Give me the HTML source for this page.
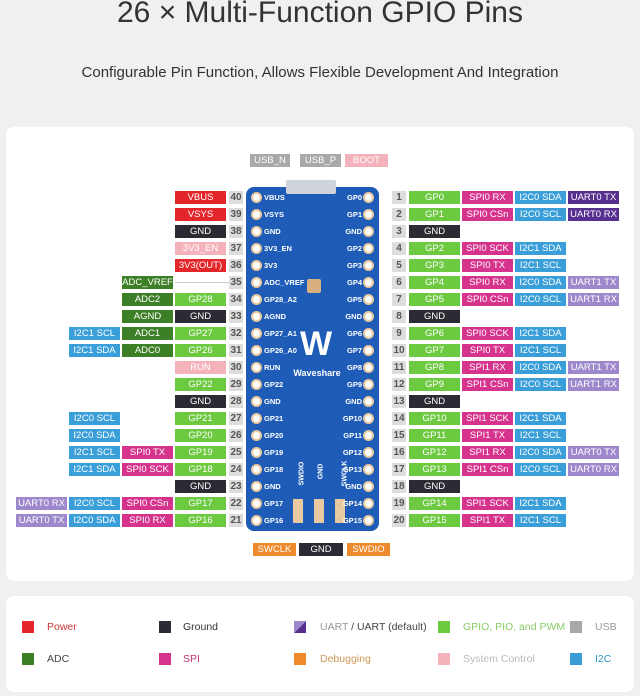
<!DOCTYPE html>
<html><head><meta charset="utf-8"><style>
*{margin:0;padding:0;box-sizing:border-box}
body{width:640px;height:696px;background:#f0f0f0;font-family:"Liberation Sans",sans-serif;position:relative;overflow:hidden}
.t{position:absolute;left:0;width:640px;text-align:center;color:#333}
.card{position:absolute;background:#fff;border-radius:8px}
.l{position:absolute;width:51px;height:13px;font-size:9.5px;line-height:13px;text-align:center;color:#fff}
.n,.m{position:absolute;width:14px;height:13px;font-size:10px;line-height:13px;text-align:center;background:#ddd;color:#555;font-weight:bold}
.n{left:229px}.m{left:392px}
.a{left:175px}.b{left:122px}.c{left:69px}.d{left:16px}
.e{left:409px}.f{left:462px}.g{left:515px}.h{left:568px}
.p{background:#e4262b}.k{background:#2b2b33}.s{background:#f4b3ba}.gp{background:#6cc940}.ad{background:#3d7f27}
.sp{background:#d5338c}.i{background:#3a9fd9}.ud{background:#57308f}.ul{background:#9d88cc}.us{background:#a9a9a9}.db{background:#ee8a2c}
.r0{top:191px}.r1{top:208px}.r2{top:225px}.r3{top:242px}.r4{top:259px}.r5{top:276px}.r6{top:293px}.r7{top:310px}.r8{top:327px}.r9{top:344px}
.r10{top:361px}.r11{top:378px}.r12{top:395px}.r13{top:412px}.r14{top:429px}.r15{top:446px}.r16{top:463px}.r17{top:480px}.r18{top:497px}.r19{top:514px}
.board{position:absolute;left:246px;top:187px;width:133px;height:344px;background:#1f5cb8;border-radius:8px}
.pl,.pr{position:absolute;font-size:7.5px;font-weight:bold;color:#fff;height:13px;line-height:13px}
.pl{left:264px}.pr{left:302px;width:60px;text-align:right}
.pad{position:absolute;width:11px;height:11px;border-radius:50%;background:#fff;border:2px solid #e8c9a0}
.pa{left:251px}.pb{left:363px}
.sq{position:absolute;width:12px;height:12px}
.lt{position:absolute;font-size:10.5px;line-height:12px}
.ln{position:absolute;height:1px;background:#ccc}
</style></head><body>
<div class="t" style="top:-4px;font-size:30px">26 × Multi-Function GPIO Pins</div>
<div class="t" style="top:64px;font-size:15px">Configurable Pin Function, Allows Flexible Development And Integration</div>
<div class="card" style="left:6px;top:127px;width:628px;height:454px"></div>
<div class="card" style="left:6px;top:596px;width:628px;height:96px"></div>

<div class="board"></div>
<div style="position:absolute;left:286px;top:180px;width:50px;height:14px;background:#cfd4da;border-radius:2px"></div>
<div style="position:absolute;left:307px;top:279px;width:14px;height:14px;background:#d8b080;border-radius:2px"></div>
<div style="position:absolute;left:292px;top:320px;width:48px;height:48px;color:#fff;font-size:34px;font-weight:bold;text-align:center;line-height:48px">W</div>
<div style="position:absolute;left:290px;top:368px;width:54px;color:#fff;font-size:9px;font-weight:bold;text-align:center">Waveshare</div>
<div style="position:absolute;left:293px;top:499px;width:10px;height:24px;background:#e8c9a0"></div>
<div style="position:absolute;left:314px;top:499px;width:10px;height:24px;background:#e8c9a0"></div>
<div style="position:absolute;left:335px;top:499px;width:10px;height:24px;background:#e8c9a0"></div>
<div style="position:absolute;left:290px;top:470px;font-size:7px;font-weight:bold;color:#fff;transform:rotate(-90deg)">SWDIO</div>
<div style="position:absolute;left:313px;top:468px;font-size:7px;font-weight:bold;color:#fff;transform:rotate(-90deg)">GND</div>
<div style="position:absolute;left:332px;top:470px;font-size:7px;font-weight:bold;color:#fff;transform:rotate(-90deg)">SWCLK</div>

<div class="l us" style="left:250px;top:154px;width:40px">USB_N</div>
<div class="l us" style="left:300px;top:154px;width:41px">USB_P</div>
<div class="l s" style="left:345px;top:154px;width:43px">BOOT</div>
<div class="l db" style="left:253px;top:543px;width:43px">SWCLK</div>
<div class="l k" style="left:299px;top:543px;width:44px">GND</div>
<div class="l db" style="left:347px;top:543px;width:43px">SWDIO</div>
<div class="ln" style="left:175px;top:282px;width:54px"></div>

<!-- pads -->
<div class="pad pa r0" style="margin-top:1px"></div><div class="pad pa r1" style="margin-top:1px"></div><div class="pad pa r2" style="margin-top:1px"></div><div class="pad pa r3" style="margin-top:1px"></div><div class="pad pa r4" style="margin-top:1px"></div><div class="pad pa r5" style="margin-top:1px"></div><div class="pad pa r6" style="margin-top:1px"></div><div class="pad pa r7" style="margin-top:1px"></div><div class="pad pa r8" style="margin-top:1px"></div><div class="pad pa r9" style="margin-top:1px"></div><div class="pad pa r10" style="margin-top:1px"></div><div class="pad pa r11" style="margin-top:1px"></div><div class="pad pa r12" style="margin-top:1px"></div><div class="pad pa r13" style="margin-top:1px"></div><div class="pad pa r14" style="margin-top:1px"></div><div class="pad pa r15" style="margin-top:1px"></div><div class="pad pa r16" style="margin-top:1px"></div><div class="pad pa r17" style="margin-top:1px"></div><div class="pad pa r18" style="margin-top:1px"></div><div class="pad pa r19" style="margin-top:1px"></div>
<div class="pad pb r0" style="margin-top:1px"></div><div class="pad pb r1" style="margin-top:1px"></div><div class="pad pb r2" style="margin-top:1px"></div><div class="pad pb r3" style="margin-top:1px"></div><div class="pad pb r4" style="margin-top:1px"></div><div class="pad pb r5" style="margin-top:1px"></div><div class="pad pb r6" style="margin-top:1px"></div><div class="pad pb r7" style="margin-top:1px"></div><div class="pad pb r8" style="margin-top:1px"></div><div class="pad pb r9" style="margin-top:1px"></div><div class="pad pb r10" style="margin-top:1px"></div><div class="pad pb r11" style="margin-top:1px"></div><div class="pad pb r12" style="margin-top:1px"></div><div class="pad pb r13" style="margin-top:1px"></div><div class="pad pb r14" style="margin-top:1px"></div><div class="pad pb r15" style="margin-top:1px"></div><div class="pad pb r16" style="margin-top:1px"></div><div class="pad pb r17" style="margin-top:1px"></div><div class="pad pb r18" style="margin-top:1px"></div><div class="pad pb r19" style="margin-top:1px"></div>

<!-- board labels left -->
<div class="pl r0">VBUS</div><div class="pl r1">VSYS</div><div class="pl r2">GND</div><div class="pl r3">3V3_EN</div><div class="pl r4">3V3</div><div class="pl r5">ADC_VREF</div><div class="pl r6">GP28_A2</div><div class="pl r7">AGND</div><div class="pl r8">GP27_A1</div><div class="pl r9">GP26_A0</div><div class="pl r10">RUN</div><div class="pl r11">GP22</div><div class="pl r12">GND</div><div class="pl r13">GP21</div><div class="pl r14">GP20</div><div class="pl r15">GP19</div><div class="pl r16">GP18</div><div class="pl r17">GND</div><div class="pl r18">GP17</div><div class="pl r19">GP16</div>
<div class="pr r0">GP0</div><div class="pr r1">GP1</div><div class="pr r2">GND</div><div class="pr r3">GP2</div><div class="pr r4">GP3</div><div class="pr r5">GP4</div><div class="pr r6">GP5</div><div class="pr r7">GND</div><div class="pr r8">GP6</div><div class="pr r9">GP7</div><div class="pr r10">GP8</div><div class="pr r11">GP9</div><div class="pr r12">GND</div><div class="pr r13">GP10</div><div class="pr r14">GP11</div><div class="pr r15">GP12</div><div class="pr r16">GP13</div><div class="pr r17">GND</div><div class="pr r18">GP14</div><div class="pr r19">GP15</div>

<!-- numbers -->
<div class="n r0">40</div><div class="n r1">39</div><div class="n r2">38</div><div class="n r3">37</div><div class="n r4">36</div><div class="n r5">35</div><div class="n r6">34</div><div class="n r7">33</div><div class="n r8">32</div><div class="n r9">31</div><div class="n r10">30</div><div class="n r11">29</div><div class="n r12">28</div><div class="n r13">27</div><div class="n r14">26</div><div class="n r15">25</div><div class="n r16">24</div><div class="n r17">23</div><div class="n r18">22</div><div class="n r19">21</div>
<div class="m r0">1</div><div class="m r1">2</div><div class="m r2">3</div><div class="m r3">4</div><div class="m r4">5</div><div class="m r5">6</div><div class="m r6">7</div><div class="m r7">8</div><div class="m r8">9</div><div class="m r9">10</div><div class="m r10">11</div><div class="m r11">12</div><div class="m r12">13</div><div class="m r13">14</div><div class="m r14">15</div><div class="m r15">16</div><div class="m r16">17</div><div class="m r17">18</div><div class="m r18">19</div><div class="m r19">20</div>

<!-- left labels -->
<div class="l a p r0">VBUS</div>
<div class="l a p r1">VSYS</div>
<div class="l a k r2">GND</div>
<div class="l a s r3">3V3_EN</div>
<div class="l a p r4">3V3(OUT)</div>
<div class="l b ad r5">ADC_VREF</div>
<div class="l a gp r6">GP28</div><div class="l b ad r6">ADC2</div>
<div class="l a k r7">GND</div><div class="l b ad r7">AGND</div>
<div class="l a gp r8">GP27</div><div class="l b ad r8">ADC1</div><div class="l c i r8">I2C1 SCL</div>
<div class="l a gp r9">GP26</div><div class="l b ad r9">ADC0</div><div class="l c i r9">I2C1 SDA</div>
<div class="l a s r10">RUN</div>
<div class="l a gp r11">GP22</div>
<div class="l a k r12">GND</div>
<div class="l a gp r13">GP21</div><div class="l c i r13">I2C0 SCL</div>
<div class="l a gp r14">GP20</div><div class="l c i r14">I2C0 SDA</div>
<div class="l a gp r15">GP19</div><div class="l b sp r15">SPI0 TX</div><div class="l c i r15">I2C1 SCL</div>
<div class="l a gp r16">GP18</div><div class="l b sp r16">SPI0 SCK</div><div class="l c i r16">I2C1 SDA</div>
<div class="l a k r17">GND</div>
<div class="l a gp r18">GP17</div><div class="l b sp r18">SPI0 CSn</div><div class="l c i r18">I2C0 SCL</div><div class="l d ul r18">UART0 RX</div>
<div class="l a gp r19">GP16</div><div class="l b sp r19">SPI0 RX</div><div class="l c i r19">I2C0 SDA</div><div class="l d ul r19">UART0 TX</div>

<!-- right labels -->
<div class="l e gp r0">GP0</div><div class="l f sp r0">SPI0 RX</div><div class="l g i r0">I2C0 SDA</div><div class="l h ud r0">UART0 TX</div>
<div class="l e gp r1">GP1</div><div class="l f sp r1">SPI0 CSn</div><div class="l g i r1">I2C0 SCL</div><div class="l h ud r1">UART0 RX</div>
<div class="l e k r2">GND</div>
<div class="l e gp r3">GP2</div><div class="l f sp r3">SPI0 SCK</div><div class="l g i r3">I2C1 SDA</div>
<div class="l e gp r4">GP3</div><div class="l f sp r4">SPI0 TX</div><div class="l g i r4">I2C1 SCL</div>
<div class="l e gp r5">GP4</div><div class="l f sp r5">SPI0 RX</div><div class="l g i r5">I2C0 SDA</div><div class="l h ul r5">UART1 TX</div>
<div class="l e gp r6">GP5</div><div class="l f sp r6">SPI0 CSn</div><div class="l g i r6">I2C0 SCL</div><div class="l h ul r6">UART1 RX</div>
<div class="l e k r7">GND</div>
<div class="l e gp r8">GP6</div><div class="l f sp r8">SPI0 SCK</div><div class="l g i r8">I2C1 SDA</div>
<div class="l e gp r9">GP7</div><div class="l f sp r9">SPI0 TX</div><div class="l g i r9">I2C1 SCL</div>
<div class="l e gp r10">GP8</div><div class="l f sp r10">SPI1 RX</div><div class="l g i r10">I2C0 SDA</div><div class="l h ul r10">UART1 TX</div>
<div class="l e gp r11">GP9</div><div class="l f sp r11">SPI1 CSn</div><div class="l g i r11">I2C0 SCL</div><div class="l h ul r11">UART1 RX</div>
<div class="l e k r12">GND</div>
<div class="l e gp r13">GP10</div><div class="l f sp r13">SPI1 SCK</div><div class="l g i r13">I2C1 SDA</div>
<div class="l e gp r14">GP11</div><div class="l f sp r14">SPI1 TX</div><div class="l g i r14">I2C1 SCL</div>
<div class="l e gp r15">GP12</div><div class="l f sp r15">SPI1 RX</div><div class="l g i r15">I2C0 SDA</div><div class="l h ul r15">UART0 TX</div>
<div class="l e gp r16">GP13</div><div class="l f sp r16">SPI1 CSn</div><div class="l g i r16">I2C0 SCL</div><div class="l h ul r16">UART0 RX</div>
<div class="l e k r17">GND</div>
<div class="l e gp r18">GP14</div><div class="l f sp r18">SPI1 SCK</div><div class="l g i r18">I2C1 SDA</div>
<div class="l e gp r19">GP15</div><div class="l f sp r19">SPI1 TX</div><div class="l g i r19">I2C1 SCL</div>

<!-- legend -->
<div class="sq p" style="left:22px;top:621px"></div><div class="lt" style="left:47px;top:621px;color:#c33">Power</div>
<div class="sq k" style="left:159px;top:621px"></div><div class="lt" style="left:183px;top:621px;color:#333">Ground</div>
<div class="sq" style="left:294px;top:621px;background:linear-gradient(135deg,#9d88cc 50%,#57308f 50%)"></div><div class="lt" style="left:320px;top:621px;color:#999">UART <span style="color:#444">/ UART (default)</span></div>
<div class="sq gp" style="left:438px;top:621px"></div><div class="lt" style="left:463px;top:621px;color:#8c6">GPIO, PIO, and PWM</div>
<div class="sq us" style="left:570px;top:621px"></div><div class="lt" style="left:595px;top:621px;color:#999">USB</div>
<div class="sq ad" style="left:22px;top:653px"></div><div class="lt" style="left:47px;top:653px;color:#444">ADC</div>
<div class="sq sp" style="left:159px;top:653px"></div><div class="lt" style="left:183px;top:653px;color:#b37">SPI</div>
<div class="sq db" style="left:294px;top:653px"></div><div class="lt" style="left:320px;top:653px;color:#c95">Debugging</div>
<div class="sq s" style="left:438px;top:653px"></div><div class="lt" style="left:463px;top:653px;color:#bbb">System Control</div>
<div class="sq i" style="left:570px;top:653px"></div><div class="lt" style="left:595px;top:653px;color:#39c">I2C</div>
</body></html>
